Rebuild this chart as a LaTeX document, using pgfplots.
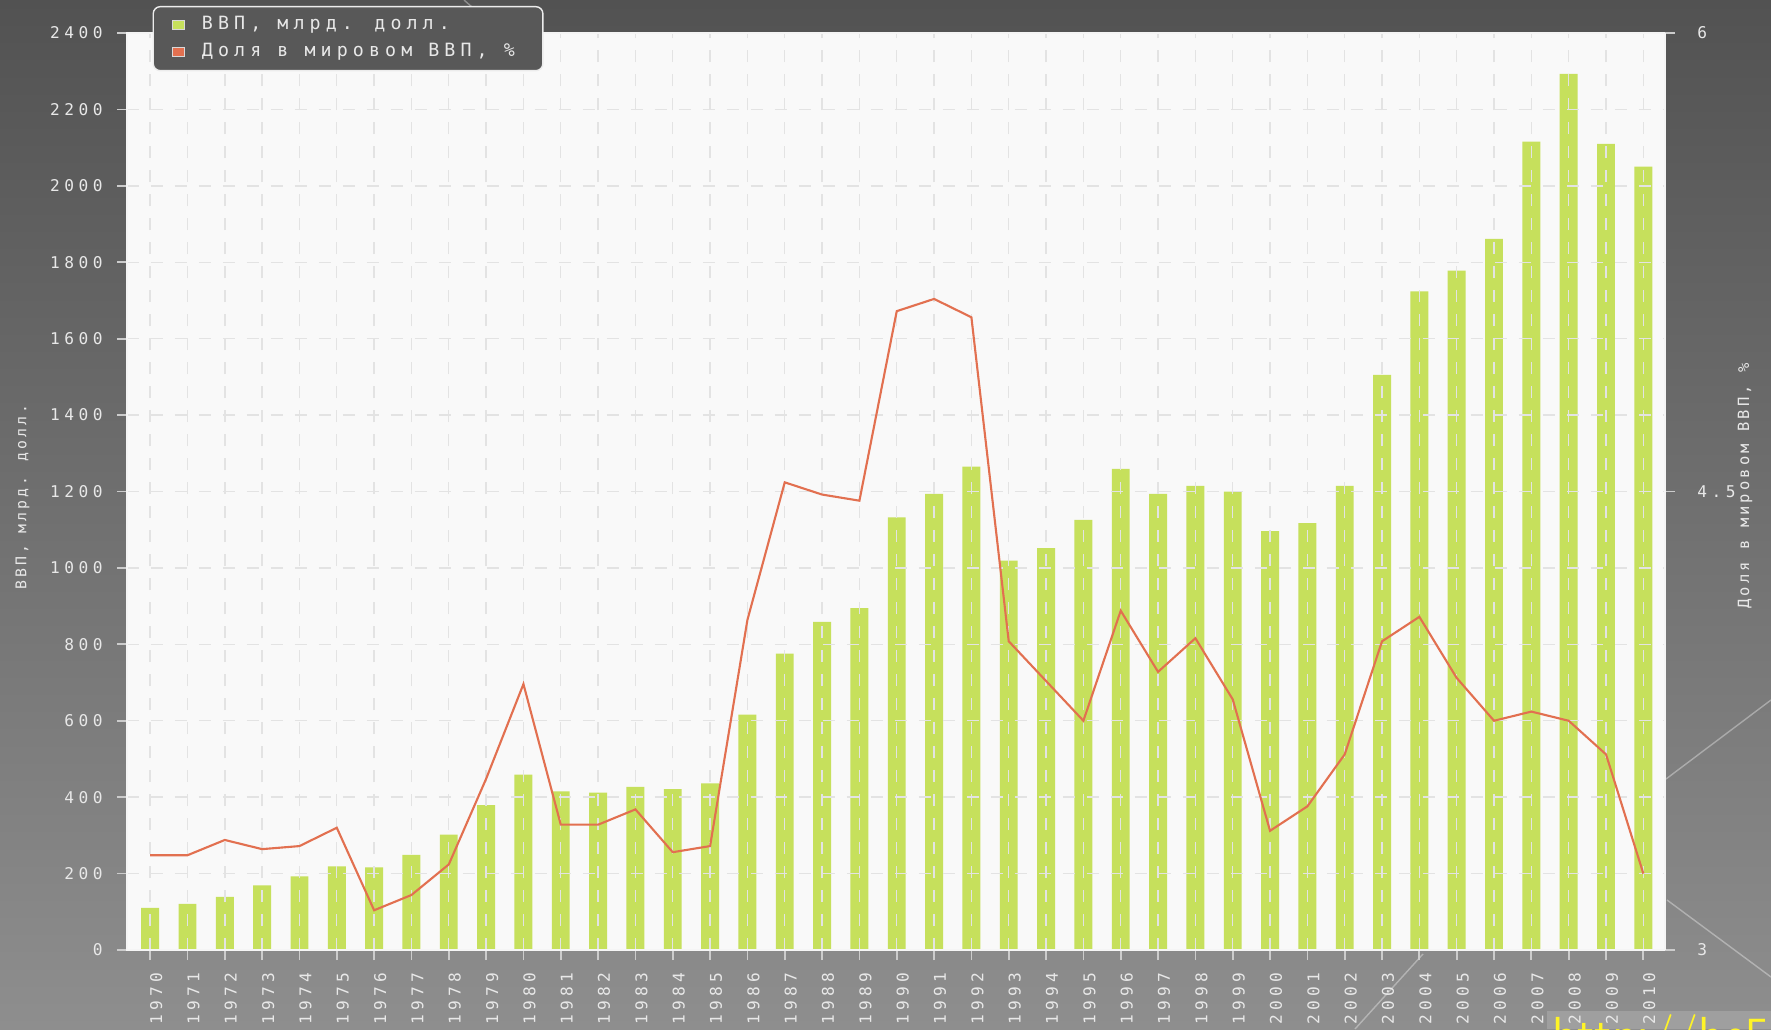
\documentclass[border=0pt]{standalone}
\usepackage{pgfplots}
\pgfplotsset{compat=1.18}
\usepackage{pgfplotstable}
\usepackage{fontspec}
\setmainfont{DejaVu Sans}
\newfontfamily\mono[LetterSpace=28]{DejaVu Sans Mono}
\newfontfamily\monolab[LetterSpace=20]{DejaVu Sans Mono}
\definecolor{bgtop}{RGB}{82,82,82}
\definecolor{bgbot}{RGB}{142,142,142}
\definecolor{barc}{RGB}{198,224,92}
\definecolor{linec}{RGB}{226,112,80}
\definecolor{plotbg}{RGB}{249,249,249}
\definecolor{txt}{RGB}{232,232,232}
\definecolor{legbg}{RGB}{88,88,88}

\pgfplotstableread{
i gdp share
0 110 3.31
1 121 3.31
2 139 3.36
3 169 3.33
4 193 3.34
5 219 3.40
6 216 3.13
7 249 3.18
8 302 3.28
9 379 3.56
10 459 3.87
11 415 3.41
12 412 3.41
13 427 3.46
14 421 3.32
15 436 3.34
16 616 4.08
17 776 4.53
18 859 4.49
19 895 4.47
20 1132 5.09
21 1194 5.13
22 1265 5.07
23 1019 4.01
24 1052 3.88
25 1126 3.75
26 1259 4.11
27 1194 3.91
28 1215 4.02
29 1200 3.82
30 1096 3.39
31 1117 3.47
32 1215 3.64
33 1505 4.01
34 1724 4.09
35 1778 3.89
36 1861 3.75
37 2116 3.78
38 2293 3.75
39 2110 3.64
40 2050 3.25
}\data

\begin{document}
\begin{tikzpicture}
\useasboundingbox (0,0) rectangle (177.1mm,102.9mm);
\shade[top color=bgtop,bottom color=bgbot] (0,0) rectangle (177.1mm,102.9mm);
% decorative slide lines
\draw[white,opacity=0.35,line width=0.4pt] (46.4mm,102.9mm) -- (60mm,90.9mm);
\draw[white,opacity=0.35,line width=0.4pt] (166.7mm,12.9mm) -- (177.1mm,5.2mm);
\draw[white,opacity=0.35,line width=0.4pt] (166.6mm,25.0mm) -- (177.1mm,32.9mm);
\draw[white,opacity=0.35,line width=0.4pt] (135.5mm,0mm) -- (142.3mm,7.5mm);
% watermark
\fill[gray!75] (154.7mm,0) rectangle (177.1mm,1.8mm);
\node[anchor=base west,inner sep=0pt,text=yellow!85!white,font=\sffamily\fontsize{14pt}{14pt}\selectfont] at (155.2mm,-2.2mm) {http://be5.biz};

\begin{axis}[
  at={(12.7mm,7.9mm)}, anchor=south west,
  scale only axis, width=153.8mm, height=91.7mm,
  xmin=-0.62, xmax=40.58, ymin=0, ymax=2400,
  ytick={0,200,...,2400},
  xtick={0,...,40},
  xticklabel={\pgfmathtruncatemacro\yr{\tick+1970}\yr},
  /pgf/number format/assume math mode=true,
  /pgf/number format/1000 sep={},
  tick label style={font=\mono\fontsize{4.6pt}{5pt}\selectfont, text=txt},
  x tick label style={rotate=90, anchor=east, yshift=-0.6mm},
  y tick label style={xshift=-0.2mm},
  tick align=outside,
  major tick length=1mm,
  tick style={gray!40, line width=0.5pt},
  xtick pos=bottom, ytick pos=left,
  axis line style={white!92!gray, line width=0.7pt},
  axis background/.style={fill=plotbg},
  grid=major,
  major grid style={dashed, gray!22, line width=0.4pt, dash pattern=on 1.2mm off 1.2mm},
  axis on top,
  ylabel={ВВП, млрд. долл.},
  ylabel style={font=\monolab\fontsize{4.2pt}{5pt}\selectfont, text=txt, at={(axis description cs:-0.068,0.494)}, anchor=center},
]
\addplot[ybar, bar width=0.48, bar shift=0pt, fill=barc, draw=none] table[x=i,y=gdp] {\data};
\end{axis}

\begin{axis}[
  at={(12.7mm,7.9mm)}, anchor=south west,
  scale only axis, width=153.8mm, height=91.7mm,
  xmin=-0.62, xmax=40.58, ymin=3, ymax=6,
  ytick={3,4.5,6},
  axis y line*=right,
  axis x line=none,
  tick align=outside,
  major tick length=1mm,
  tick style={gray!40, line width=0.5pt},
  y tick label style={font=\mono\fontsize{4.6pt}{5pt}\selectfont, text=txt, xshift=1.0mm},
  /pgf/number format/assume math mode=true,
  axis line style={white!92!gray, line width=0.7pt},
  ylabel={Доля в мировом ВВП, \%},
  ylabel style={font=\monolab\fontsize{4.4pt}{5pt}\selectfont, text=txt, at={(axis description cs:1.052,0.506)}, anchor=center},
  legend style={at={(axis description cs:0.0166,1.0295)}, anchor=north west,
    fill=legbg, draw=white!85!gray, rounded corners=2pt,
    font=\mono\fontsize{5.2pt}{6pt}\selectfont, text=txt,
    inner xsep=1.9mm, inner ysep=0.5mm, row sep=0pt, column sep=0.8mm,
    nodes={inner ysep=0.42mm, inner xsep=0.9mm}},
  legend cell align=left,
]
\addlegendimage{legend image code/.code={\fill[sharp corners,barc,draw=white!70!gray,line width=0.2pt] (0mm,-0.45mm) rectangle (1.2mm,0.45mm);}}
\addlegendentry{ВВП, млрд. долл.}
\addlegendimage{legend image code/.code={\fill[sharp corners,linec,draw=white!70!gray,line width=0.2pt] (0mm,-0.45mm) rectangle (1.2mm,0.45mm);}}
\addlegendentry{Доля в мировом ВВП, \%}
\addplot[linec, line width=0.6pt, mark=none, forget plot] table[x=i,y=share] {\data};
\end{axis}
\end{tikzpicture}
\end{document}
